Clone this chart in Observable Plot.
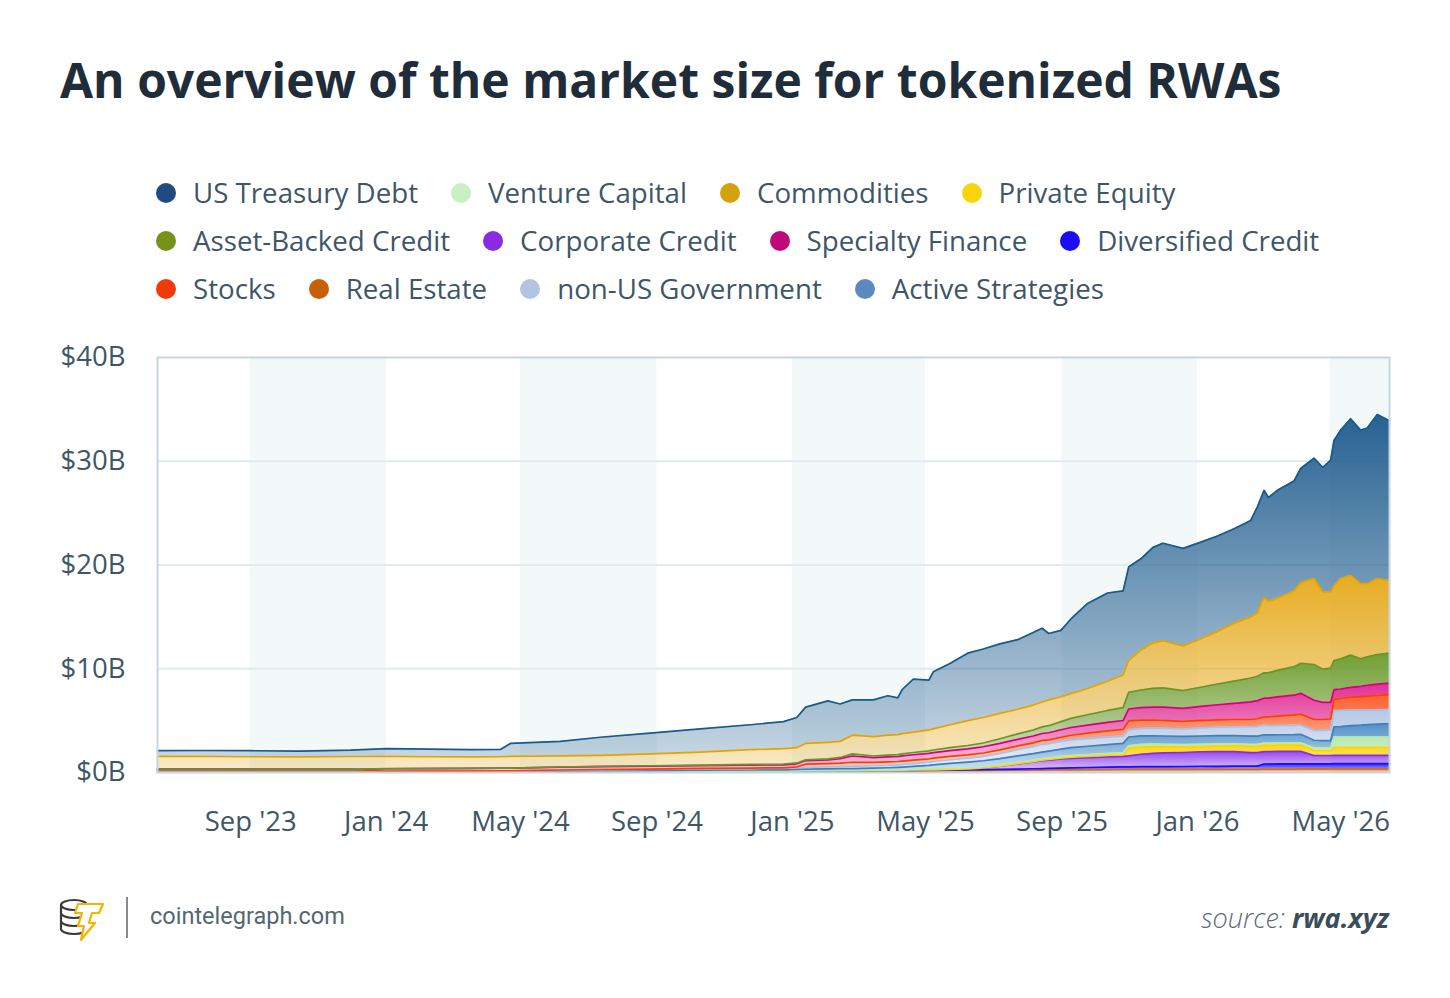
<!DOCTYPE html>
<html><head><meta charset="utf-8">
<script src="https://cdn.jsdelivr.net/npm/d3@7"></script>
<script src="https://cdn.jsdelivr.net/npm/@observablehq/plot@0.6"></script>
<style>
html,body{margin:0;padding:0;background:#fff;}
body{width:1450px;height:998px;position:relative;overflow:hidden;font-family:"Open Sans",sans-serif;}
#title{position:absolute;left:60px;top:56px;font:700 48px/1 "Open Sans",sans-serif;color:#1f2d3a;white-space:nowrap;}
.lrow{position:absolute;left:156px;height:40px;display:flex;align-items:center;font:400 27.7px/1 "Open Sans",sans-serif;color:#3e5666;white-space:nowrap;}
.litem{display:flex;align-items:center;margin-right:33px;}
.ldot{width:20px;height:20px;border-radius:50%;margin-right:17px;flex:none;}
#chart{position:absolute;left:0;top:330px;}
#logo{position:absolute;left:58px;top:896px;}
#sep{position:absolute;left:126px;top:897px;width:2px;height:41px;background:#8a8a8a;}
#site{position:absolute;left:150px;top:902px;font:400 23.5px/1.25 Roboto,sans-serif;color:#536773;}
#source{position:absolute;right:61px;top:901px;font:italic 300 27px/1.25 "Open Sans",sans-serif;color:#5b6b76;}
#source b{font-weight:700;color:#3a4d5a;}
</style></head><body>
<div id="title">An overview of the market size for tokenized RWAs</div>
<div id="legend"></div>
<div id="chart"></div>
<svg id="logo" width="50" height="46" viewBox="0 0 50 46">
  <g fill="none" stroke="#3b3b3b" stroke-width="2.2">
    <ellipse cx="16" cy="9" rx="13" ry="5"/>
    <path d="M3 9 v24 a13 5 0 0 0 26 0 v-24"/>
    <path d="M3 17 a13 5 0 0 0 26 0"/>
    <path d="M3 25 a13 5 0 0 0 26 0"/>
  </g>
  <polygon points="20,8 45,8 41,17 34,17 31,27 37,27 23,44 26,30 20,30 24,17 17,17" fill="#fff" stroke="#f4b400" stroke-width="2.2" stroke-linejoin="round"/>
</svg>
<div id="sep"></div>
<div id="site">cointelegraph.com</div>
<div id="source">source: <b>rwa.xyz</b></div>
<script>
// ---------- DATA (values in billions of USD) ----------
const dates = ["2023-06-09","2023-07-17","2023-08-31","2023-10-15","2023-11-30","2024-01-01","2024-02-10","2024-03-17","2024-04-13","2024-04-22",
"2024-06-06","2024-07-12","2024-08-26","2024-10-10","2024-11-24","2024-12-24","2025-01-05","2025-01-13","2025-02-02","2025-02-13",
"2025-02-24","2025-03-15","2025-03-28","2025-04-06","2025-04-10","2025-04-20","2025-05-04","2025-05-08","2025-05-23","2025-06-08",
"2025-06-22","2025-07-07","2025-07-23","2025-08-06","2025-08-14","2025-08-20","2025-08-31","2025-09-09","2025-09-24","2025-10-12",
"2025-10-26","2025-10-31","2025-11-11","2025-11-22","2025-12-01","2025-12-19","2026-01-04","2026-01-19","2026-02-03","2026-02-18",
"2026-02-24","2026-03-02","2026-03-06","2026-03-14","2026-03-29","2026-04-04","2026-04-16","2026-04-24","2026-05-01","2026-05-04",
"2026-05-10","2026-05-19","2026-05-28","2026-06-03","2026-06-12","2026-06-23"];

const realEstate = [0.03,0.03,0.03,0.03,0.03,0.05,0.05,0.05,0.05,0.05,0.06,0.06,0.07,0.07,0.08,0.08,0.09,0.10,0.10,0.11,0.11,0.12,0.12,0.13,0.13,0.14,0.15,0.15,0.17,0.18,0.19,0.20,0.21,0.22,0.23,0.24,0.25,0.26,0.27,0.28,0.29,0.30,0.30,0.30,0.30,0.30,0.30,0.30,0.31,0.31,0.31,0.32,0.32,0.33,0.33,0.34,0.34,0.34,0.34,0.35,0.35,0.35,0.35,0.35,0.35,0.35];
const diversifiedCredit = [0.25,0.25,0.25,0.25,0.25,0.03,0.03,0.03,0.03,0.03,0.03,0.03,0.03,0.03,0.03,0.03,0.04,0.04,0.04,0.04,0.04,0.05,0.05,0.05,0.05,0.05,0.06,0.06,0.07,0.08,0.09,0.10,0.12,0.14,0.15,0.16,0.18,0.19,0.21,0.23,0.25,0.25,0.26,0.27,0.27,0.28,0.30,0.30,0.30,0.30,0.30,0.50,0.50,0.50,0.50,0.50,0.50,0.50,0.50,0.50,0.50,0.50,0.50,0.50,0.50,0.50];
const corporateCredit = [0,0,0,0,0,0,0,0,0,0,0.01,0.01,0.01,0.02,0.02,0.02,0.03,0.03,0.03,0.03,0.03,0.03,0.04,0.04,0.04,0.05,0.05,0.05,0.07,0.09,0.15,0.30,0.50,0.65,0.75,0.80,0.88,0.92,0.95,1.00,1.02,1.05,1.20,1.28,1.32,1.35,1.40,1.42,1.40,1.30,1.30,1.20,1.20,1.20,1.20,1.20,0.80,0.80,0.80,0.80,0.80,0.80,0.80,0.80,0.80,0.80];
const privateEquity = [0,0,0,0,0,0,0,0,0,0,0,0,0,0,0,0,0,0,0,0,0,0,0,0,0,0,0,0,0,0,0.01,0.02,0.03,0.04,0.05,0.06,0.08,0.10,0.12,0.14,0.15,0.72,0.70,0.65,0.60,0.55,0.50,0.52,0.55,0.60,0.60,0.62,0.60,0.60,0.60,0.60,0.50,0.46,0.46,0.76,0.76,0.76,0.76,0.76,0.76,0.76];
const ventureCapital = [0,0,0,0,0,0,0,0,0,0,0.01,0.01,0.02,0.02,0.02,0.02,0.03,0.03,0.04,0.04,0.04,0.05,0.05,0.06,0.06,0.07,0.08,0.08,0.09,0.10,0.11,0.12,0.13,0.14,0.15,0.15,0.16,0.17,0.18,0.19,0.20,0.25,0.25,0.24,0.23,0.22,0.22,0.21,0.20,0.20,0.20,0.20,0.20,0.21,0.22,0.22,0.25,0.28,0.28,1.00,1.00,1.00,1.00,1.00,1.00,1.00];
const activeStrategies = [0,0,0,0,0,0,0,0,0.01,0.01,0.03,0.05,0.06,0.08,0.09,0.10,0.12,0.12,0.14,0.15,0.16,0.18,0.20,0.22,0.24,0.28,0.35,0.40,0.48,0.55,0.58,0.60,0.62,0.63,0.64,0.65,0.70,0.75,0.80,0.85,0.90,0.85,0.82,0.80,0.80,0.78,0.80,0.80,0.80,0.80,0.80,0.80,0.80,0.80,0.80,0.82,0.72,0.70,0.70,1.00,1.02,1.10,1.15,1.20,1.25,1.30];
const nonUSGovernment = [0.02,0.02,0.02,0.02,0.02,0.04,0.05,0.05,0.06,0.06,0.08,0.10,0.11,0.13,0.14,0.15,0.17,0.18,0.19,0.20,0.21,0.22,0.23,0.24,0.25,0.27,0.30,0.32,0.35,0.38,0.42,0.50,0.60,0.68,0.75,0.72,0.75,0.75,0.74,0.72,0.70,0.70,0.72,0.74,0.75,0.73,0.78,0.82,0.85,0.90,0.92,0.92,0.90,0.90,0.90,0.90,0.95,0.98,1.00,1.55,1.55,1.50,1.45,1.40,1.38,1.35];
const stocks = [0,0,0,0,0,0,0,0.01,0.01,0.01,0.02,0.03,0.03,0.04,0.05,0.05,0.06,0.30,0.32,0.34,0.40,0.33,0.33,0.32,0.33,0.33,0.32,0.32,0.32,0.32,0.33,0.34,0.35,0.36,0.37,0.37,0.40,0.45,0.52,0.60,0.65,0.85,0.80,0.78,0.76,0.72,0.72,0.71,0.70,0.70,0.75,0.80,0.85,0.90,1.00,1.05,1.05,1.05,1.08,1.12,1.15,1.25,1.30,1.35,1.40,1.45];
const specialtyFinance = [0,0,0,0,0,0.24,0.25,0.25,0.26,0.26,0.27,0.28,0.28,0.28,0.28,0.29,0.30,0.35,0.36,0.42,0.60,0.45,0.48,0.48,0.50,0.52,0.53,0.54,0.56,0.58,0.60,0.62,0.64,0.66,0.67,0.68,0.72,0.75,0.78,0.82,0.85,1.15,1.20,1.25,1.28,1.25,1.35,1.45,1.55,1.70,1.75,1.80,1.80,1.85,1.90,2.00,1.85,1.65,1.60,0.90,0.92,0.95,1.00,1.05,1.08,1.10];
const assetBackedCredit = [0,0,0,0,0,0.01,0.01,0.01,0.01,0.01,0.02,0.03,0.04,0.05,0.07,0.08,0.08,0.08,0.10,0.12,0.20,0.16,0.18,0.18,0.20,0.22,0.24,0.25,0.28,0.32,0.36,0.45,0.52,0.58,0.64,0.68,0.78,0.88,1.00,1.15,1.25,1.60,1.70,1.80,1.85,1.72,1.85,2.00,2.15,2.30,2.35,2.45,2.45,2.55,2.75,2.90,3.45,3.20,3.30,2.80,2.90,3.10,2.65,2.75,2.85,2.90];
const commodities = [1.25,1.26,1.22,1.20,1.24,1.19,1.13,1.10,1.09,1.12,1.07,1.06,1.15,1.24,1.42,1.48,1.48,1.57,1.58,1.55,1.81,1.86,1.92,1.93,1.95,1.97,2.02,2.03,2.21,2.40,2.46,2.45,2.38,2.40,2.40,2.49,2.40,2.38,2.53,2.82,3.14,3.08,3.85,4.39,4.54,4.30,4.68,5.07,5.59,5.89,6.12,7.29,6.88,6.96,7.30,7.77,8.29,7.44,7.34,7.22,7.75,7.69,7.24,7.04,7.33,6.99];
const usTreasuryDebt = [0.55,0.56,0.58,0.56,0.61,0.74,0.73,0.70,0.70,1.25,1.40,1.74,2.00,2.24,2.40,2.60,2.90,3.50,4.00,3.60,3.40,3.55,3.80,3.55,4.25,5.10,4.80,5.50,5.90,6.50,6.60,6.70,6.70,7.00,7.10,6.40,6.40,7.20,8.20,8.50,8.10,9.00,8.80,9.20,9.40,9.40,9.30,9.20,9.10,9.30,10.20,10.30,10.00,10.40,10.60,11.00,11.60,12.00,12.70,14.00,14.30,15.10,14.80,15.00,15.80,15.40];

const legendOrder = ["US Treasury Debt","Venture Capital","Commodities","Private Equity","Asset-Backed Credit","Corporate Credit","Specialty Finance","Diversified Credit","Stocks","Real Estate","non-US Government","Active Strategies"];
const legendRows = [4, 4, 4];
const stackOrder = ["Real Estate","Diversified Credit","Corporate Credit","Private Equity","Venture Capital","Active Strategies","non-US Government","Stocks","Specialty Finance","Asset-Backed Credit","Commodities","US Treasury Debt"];
const yTicks = [0, 10, 20, 30, 40];
const xTicks = ["2023-09-01","2024-01-01","2024-05-01","2024-09-01","2025-01-01","2025-05-01","2025-09-01","2026-01-01"];
const xTickLast = ["2026-05-01"];
const bandStart = ["2023-09-01","2024-05-01","2025-01-01","2025-09-01","2026-05-01"];
const bandEnd = ["2024-01-01","2024-09-01","2025-05-01","2026-01-01","2026-06-23"];

// ---------- STYLES ----------
const markerColor = {"US Treasury Debt":"#1f4a82","Venture Capital":"#c8f0c2","Commodities":"#d4a20a","Private Equity":"#fad40a","Asset-Backed Credit":"#75931a","Corporate Credit":"#8a2be2","Specialty Finance":"#c0087a","Diversified Credit":"#1a0cf5","Stocks":"#f03a0a","Real Estate":"#c8600a","non-US Government":"#b3c4e3","Active Strategies":"#5b8ac0"};
const fillColor = {"US Treasury Debt":"#1c5a8c","Venture Capital":"#b4e8ab","Commodities":"#e6a817","Private Equity":"#ffd400","Asset-Backed Credit":"#6a9a28","Corporate Credit":"#8f3cf0","Specialty Finance":"#e0258f","Diversified Credit":"#1a12ff","Stocks":"#ff5722","Real Estate":"#e0701a","non-US Government":"#b3c6e6","Active Strategies":"#4a8bc4"};
const lineColor = {"US Treasury Debt":"#175a8f","Venture Capital":"#b7e8ae","Commodities":"#e3a300","Private Equity":"#ffd000","Asset-Backed Credit":"#6b9626","Corporate Credit":"#8a2be2","Specialty Finance":"#d6007f","Diversified Credit":"#1f0cff","Stocks":"#ff3d00","Real Estate":"#d96a10","non-US Government":"#a9bfe3","Active Strategies":"#3d80bf"};

const valuesBySeries = {"Real Estate":realEstate,"Diversified Credit":diversifiedCredit,"Corporate Credit":corporateCredit,"Private Equity":privateEquity,"Venture Capital":ventureCapital,"Active Strategies":activeStrategies,"non-US Government":nonUSGovernment,"Stocks":stocks,"Specialty Finance":specialtyFinance,"Asset-Backed Credit":assetBackedCredit,"Commodities":commodities,"US Treasury Debt":usTreasuryDebt};
const gradId = s => "grad" + stackOrder.indexOf(s);
const rows = stackOrder.flatMap(s => dates.map((d, i) => ({date: new Date(d), series: s, value: valuesBySeries[s][i]})));
const bands = bandStart.map((d, i) => ({x1: new Date(d), x2: new Date(bandEnd[i])}));
const fmtX = d3.utcFormat("%b '%y");

// ---------- LEGEND ----------
const legend = document.getElementById("legend");
let k = 0;
legendRows.forEach((n, r) => {
  const row = document.createElement("div");
  row.className = "lrow";
  row.style.top = (173 + r * 48) + "px";
  for (let j = 0; j < n; j++, k++) {
    const s = legendOrder[k];
    const it = document.createElement("div");
    it.className = "litem";
    it.innerHTML = `<span class="ldot" style="background:${markerColor[s]}"></span><span>${s}</span>`;
    row.appendChild(it);
  }
  legend.appendChild(row);
});

// ---------- CHART ----------
const chart = Plot.plot({
  width: 1450, height: 512,
  marginLeft: 157, marginRight: 61, marginTop: 27, marginBottom: 70,
  style: {fontFamily: "'Open Sans', sans-serif", fontSize: "27.5px", color: "#3e5666", background: "transparent"},
  x: {type: "utc", domain: [new Date("2023-06-09"), new Date("2026-06-23")]},
  y: {domain: [0, 40]},
  color: {type: "identity"},
  marks: [
    Plot.rect(bands, {x1: "x1", x2: "x2", fill: "#f3f8f9"}),
    Plot.gridY([10, 20, 30], {stroke: "#e1eaee", strokeOpacity: 1, strokeWidth: 2}),
    Plot.areaY(rows, Plot.stackY({x: "date", y: "value", z: "series", order: stackOrder, fill: d => `url(#${gradId(d.series)})`})),
    Plot.lineY(rows, Plot.stackY2({x: "date", y: "value", z: "series", order: stackOrder, stroke: d => lineColor[d.series], strokeWidth: 1.7})),
    Plot.frame({stroke: "#c5d6de", strokeWidth: 2}),
    Plot.axisY({ticks: yTicks, tickFormat: d => `$${d}B`, tickSize: 0, tickPadding: 32, label: null}),
    Plot.axisX({ticks: xTicks.map(d => new Date(d)), tickFormat: fmtX, tickSize: 0, tickPadding: 39, label: null}),
    Plot.axisX({ticks: xTickLast.map(d => new Date(d)), tickFormat: fmtX, tickSize: 0, tickPadding: 39, label: null, dx: 10})
  ]
});
const defs = d3.select(chart).insert("defs", ":first-child");
stackOrder.forEach(s => {
  const g = defs.append("linearGradient").attr("id", gradId(s)).attr("x1", 0).attr("y1", 0).attr("x2", 0).attr("y2", 1);
  g.append("stop").attr("offset", 0).attr("stop-color", fillColor[s]).attr("stop-opacity", 0.95);
  g.append("stop").attr("offset", 1).attr("stop-color", fillColor[s]).attr("stop-opacity", 0.25);
});
document.getElementById("chart").appendChild(chart);
</script>
</body></html>
